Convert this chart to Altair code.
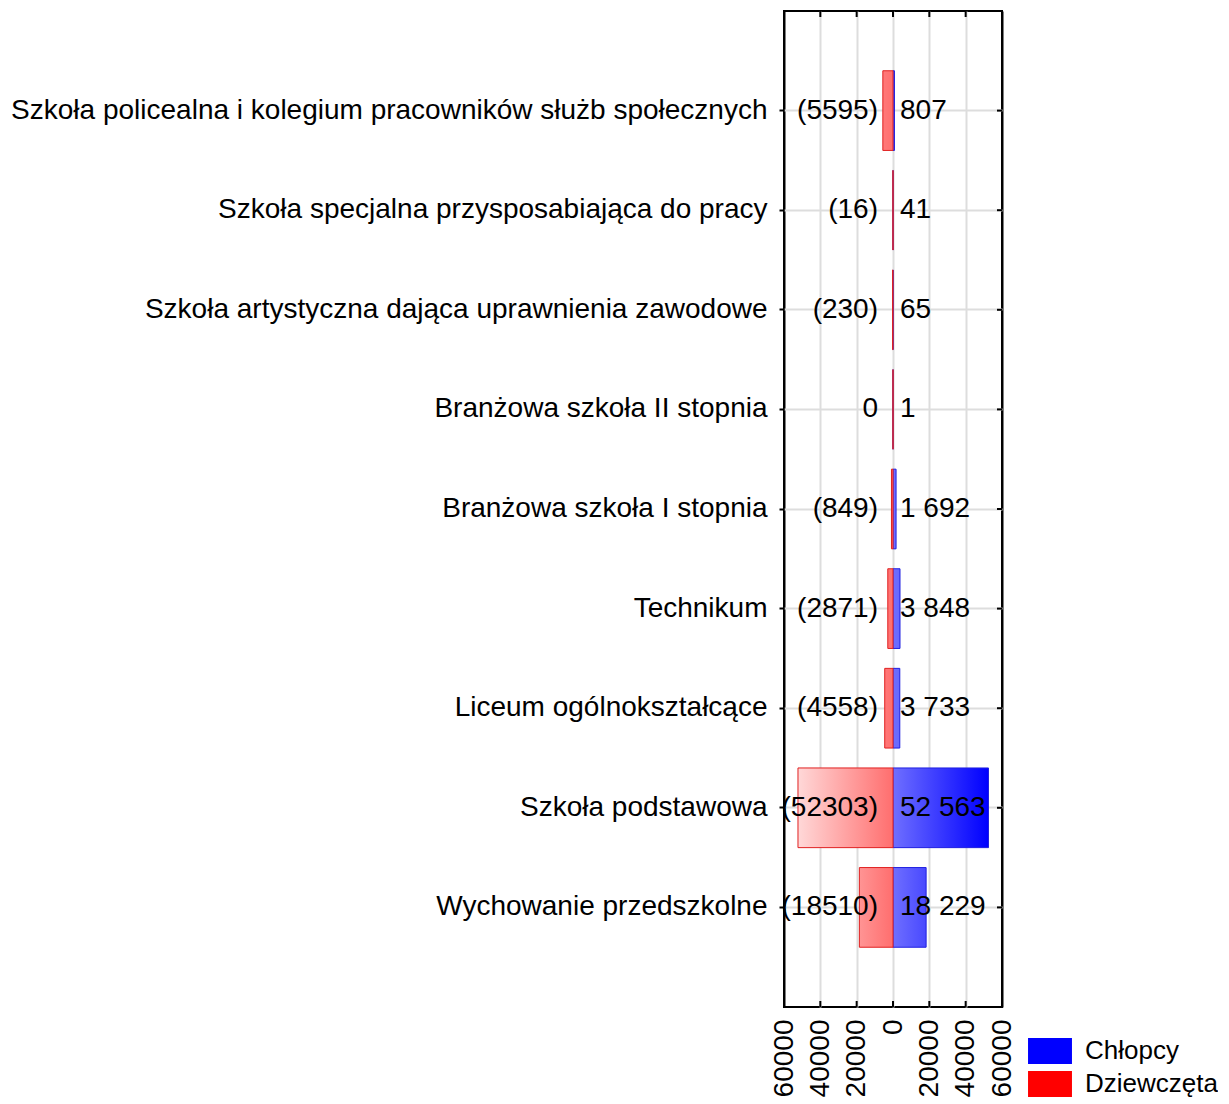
import altair as alt
import pandas as pd

categories = [
    "Szkoła policealna i kolegium pracowników służb społecznych",
    "Szkoła specjalna przysposabiająca do pracy",
    "Szkoła artystyczna dająca uprawnienia zawodowe",
    "Branżowa szkoła II stopnia",
    "Branżowa szkoła I stopnia",
    "Technikum",
    "Liceum ogólnokształcące",
    "Szkoła podstawowa",
    "Wychowanie przedszkolne",
]
girls = [5595, 16, 230, 0, 849, 2871, 4558, 52303, 18510]
boys = [807, 41, 65, 1, 1692, 3848, 3733, 52563, 18229]
series_names = ["Chłopcy", "Dziewczęta"]
x_ticks = [-60000, -40000, -20000, 0, 20000, 40000, 60000]

FONT = "Liberation Sans"
FS = 28
LFS = 26
W = 218
H = 996

girl_labels = [f"({v})" if v else "0" for v in girls]
boy_labels = [f"{v:,}".replace(",", " ") for v in boys]

rows = []
for c, g, b, gl, bl in zip(categories, girls, boys, girl_labels, boy_labels):
    rows.append({"cat": c, "sex": "Dziewczęta", "val": -g, "lab": gl, "side": "L"})
    rows.append({"cat": c, "sex": "Chłopcy", "val": b, "lab": bl, "side": "R"})
df = pd.DataFrame(rows)
ticks_df = pd.DataFrame({"t": x_ticks})
cats_df = pd.DataFrame({"cat": categories})

gmax = max(girls)
bmax = max(boys)


def red_at(v):
    g = int(round(min(255, 110 + (216 - 110) * v / gmax)))
    return "#ff%02x%02x" % (g, g)


def blue_at(v):
    r = int(round(max(0, 111 * (1 - v / bmax))))
    return "#%02x%02xff" % (r, r)


def grad(c1, c2):
    return alt.Gradient(
        gradient="linear",
        stops=[alt.GradientStop(color=c1, offset=0), alt.GradientStop(color=c2, offset=1)],
        x1=0, x2=1, y1=0, y2=0,
    )


xscale = alt.Scale(domain=[-60000, 60000], nice=False, zero=False)
yscale = alt.Scale(paddingInner=0.2, paddingOuter=0.6)

x_axis = alt.Axis(
    values=x_ticks,
    labelExpr="format(abs(datum.value), 'd')",
    labelAngle=270,
    labelFontSize=FS,
    labelFont=FONT,
    labelColor="black",
    labelPadding=12,
    labelOverlap=False,
    ticks=False,
    domain=False,
    grid=True,
    gridColor={"condition": {"test": "abs(datum.value) >= 60000", "value": "black"}, "value": "#dddddd"},
    gridWidth=2,
    title=None,
)
y_axis = alt.Axis(
    labelFontSize=FS,
    labelFont=FONT,
    labelColor="black",
    labelLimit=2000,
    labelPadding=12,
    tickSize=5,
    tickColor="black",
    tickWidth=2,
    domain=False,
    grid=True,
    gridColor="#dddddd",
    gridWidth=2,
    title=None,
)

x_enc = alt.X("val:Q", scale=xscale, axis=x_axis)
y_enc = alt.Y("cat:N", sort=categories, scale=yscale, axis=y_axis)

base = alt.Chart(df)
layers = []
for i, c in enumerate(categories):
    g = girls[i]
    b = boys[i]
    layers.append(
        base.transform_filter(
            (alt.datum.cat == c) & (alt.datum.sex == "Chłopcy")
        ).mark_bar(
            color=grad(blue_at(0), blue_at(b)), stroke="#2020e0", strokeWidth=1
        ).encode(x=x_enc, y=y_enc)
    )
    layers.append(
        base.transform_filter(
            (alt.datum.cat == c) & (alt.datum.sex == "Dziewczęta")
        ).mark_bar(
            color=grad(red_at(g), red_at(0)), stroke="#e02020", strokeWidth=1
        ).encode(x=x_enc, y=y_enc)
    )

legend_layer = base.mark_point(filled=True, opacity=0).encode(
    x=x_enc,
    y=y_enc,
    color=alt.Color(
        "sex:N",
        scale=alt.Scale(domain=series_names, range=["#0000ff", "#ff0000"]),
        legend=alt.Legend(
            title=None,
            orient="none",
            legendX=253,
            legendY=1027,
            symbolType="M-1.69,-1L1.69,-1L1.69,1L-1.69,1Z",
            symbolSize=676,
            symbolOpacity=1,
            symbolStrokeWidth=0,
            labelFontSize=LFS,
            labelFont=FONT,
            labelColor="black",
            labelOffset=22,
            rowPadding=7,
        ),
    ),
)

left_text = base.transform_filter(alt.datum.side == "L").mark_text(
    align="right", baseline="middle", dx=-15, font=FONT, fontSize=FS, color="black"
).encode(x=alt.X(datum=0, scale=xscale, axis=x_axis), y=y_enc, text="lab:N")

right_text = base.transform_filter(alt.datum.side == "R").mark_text(
    align="left", baseline="middle", dx=7, font=FONT, fontSize=FS, color="black"
).encode(x=alt.X(datum=0, scale=xscale, axis=x_axis), y=y_enc, text="lab:N")

# inward tick marks on the frame (top, bottom, right)
tick_top = alt.Chart(ticks_df).mark_rule(color="black", strokeWidth=2).encode(
    x=alt.X("t:Q", scale=xscale, axis=x_axis), y=alt.value(0), y2=alt.value(6)
)
tick_bottom = alt.Chart(ticks_df).mark_rule(color="black", strokeWidth=2).encode(
    x=alt.X("t:Q", scale=xscale, axis=x_axis), y=alt.value(H - 6), y2=alt.value(H)
)
tick_right = alt.Chart(cats_df).mark_rule(color="black", strokeWidth=2).encode(
    y=alt.Y("cat:N", sort=categories, scale=yscale, axis=y_axis), x=alt.value(W - 5), x2=alt.value(W)
)

chart = alt.layer(
    *layers, legend_layer, left_text, right_text, tick_top, tick_bottom, tick_right
).properties(
    width=W,
    height=H,
    padding={"left": 2, "top": 2, "right": 0, "bottom": 0},
).configure_view(stroke="black", strokeWidth=2)

chart.save("out.html", embed_options={"renderer": "svg", "actions": False})
